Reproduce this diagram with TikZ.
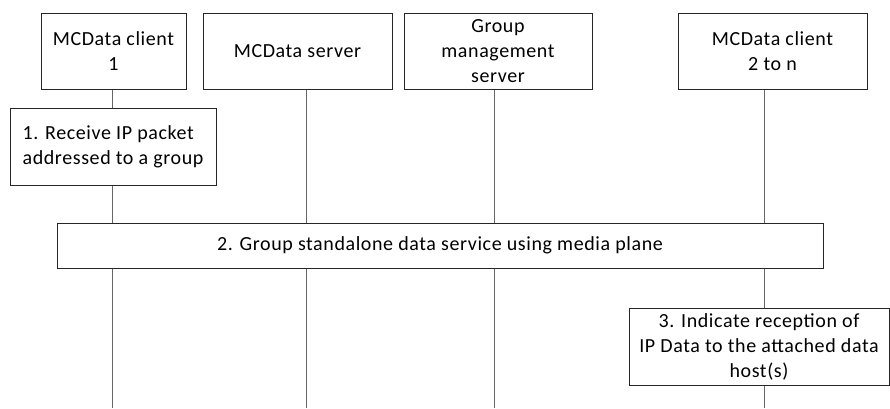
\documentclass[tikz,border=0pt]{standalone}
\usepackage{fontspec}
\setmainfont{Carlito}[LetterSpace=3]
\begin{document}
\begin{tikzpicture}[x=1pt,y=-1pt,
  box/.style={draw=black!85,line width=1pt,fill=white,inner sep=0pt,
    font=\fontsize{20}{25}\selectfont,align=center},
  life/.style={draw=black!60,line width=1pt}]
\useasboundingbox (0,0) rectangle (890,408);
% entity boxes
\node[box,minimum width=145pt,minimum height=76pt] (c1) at (113.5,51) {MCData client\\1};
\node[box,minimum width=189pt,minimum height=76pt] (c2) at (297.5,51) {MCData server};
\node[box,minimum width=188pt,minimum height=76pt] (c3) at (498,51) {Group\\management\\server};
\node[box,minimum width=189pt,minimum height=76pt] (c4) at (772.5,51) {MCData client\\2 to n};
% step boxes
\node[box,align=left,minimum width=206pt,minimum height=77pt] (s1) at (113,146.5) {1. Receive IP packet\\addressed to a group};
\node[box,minimum width=766pt,minimum height=45pt] (s2) at (440,245.5) {2. Group standalone data service using media plane};
\node[box,minimum width=260pt,minimum height=77pt] (s3) at (759,346.5) {3. Indicate reception of\\IP Data to the attached data\\host(s)};
% lifeline end points
\coordinate (b1) at (112,408);
\coordinate (b2) at (306,408);
\coordinate (b3) at (494,408);
\coordinate (b4) at (764,408);
% lifelines
\draw[life] (b1 |- c1.south) -- (b1 |- s1.north);
\draw[life] (b1 |- s1.south) -- (b1 |- s2.north);
\draw[life] (b1 |- s2.south) -- (b1);
\draw[life] (b2 |- c2.south) -- (b2 |- s2.north);
\draw[life] (b2 |- s2.south) -- (b2);
\draw[life] (b3 |- c3.south) -- (b3 |- s2.north);
\draw[life] (b3 |- s2.south) -- (b3);
\draw[life] (b4 |- c4.south) -- (b4 |- s2.north);
\draw[life] (b4 |- s2.south) -- (b4 |- s3.north);
\draw[life] (b4 |- s3.south) -- (b4);
\end{tikzpicture}
\end{document}
